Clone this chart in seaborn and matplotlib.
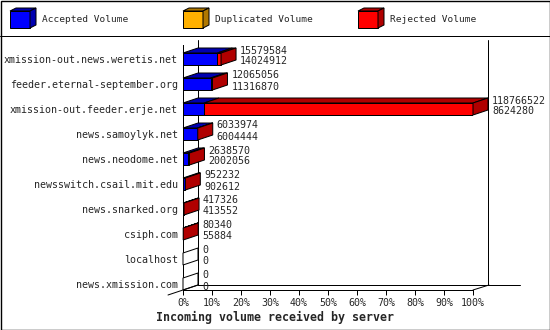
import matplotlib
matplotlib.use("Agg")
import matplotlib.pyplot as plt
from matplotlib import transforms
from matplotlib.patches import Polygon
from matplotlib.lines import Line2D
import numpy as np
import pandas as pd
import seaborn as sns

# ---------------- data ----------------
servers = [
    "xmission-out.news.weretis.net",
    "feeder.eternal-september.org",
    "xmission-out.feeder.erje.net",
    "news.samoylyk.net",
    "news.neodome.net",
    "newsswitch.csail.mit.edu",
    "news.snarked.org",
    "csiph.com",
    "localhost",
    "news.xmission.com",
]
total_volume = [15579584, 12065056, 118766522, 6033974, 2638570, 952232, 417326, 80340, 0, 0]
accepted_volume = [14024912, 11316870, 8624280, 6004444, 2002056, 902612, 413552, 55884, 0, 0]
duplicated_volume = [0, 0, 0, 0, 0, 0, 0, 0, 0, 0]
series_names = ["Accepted Volume", "Duplicated Volume", "Rejected Volume"]
series_front = ["#0000FF", "#FFB000", "#FF0000"]
series_dark = ["#0000B0", "#B07800", "#B00000"]
tick_values = [0, 10, 20, 30, 40, 50, 60, 70, 80, 90, 100]
tick_labels = [f"{v}%" for v in tick_values]
title = "Incoming volume received by server"

# ---------------- style ----------------
sns.set_style("white")
plt.rcParams["font.family"] = ["DejaVu Sans Mono"]
LW = 0.72
FS = 7.2

W, H = 550, 330
fig = plt.figure(figsize=(W / 100, H / 100), dpi=100)
fig.patch.set_facecolor("white")
# pixel coordinates measured from top-left
pix = transforms.Affine2D().scale(1 / W, -1 / H).translate(0, 1) + fig.transFigure

total = np.array(total_volume, float)
acc = np.array(accepted_volume, float)
dup = np.array(duplicated_volume, float)
scale = 100.0 / total.max()
df = pd.DataFrame({
    "server": servers,
    "accepted": acc * scale,
    "acc_dup": (acc + dup) * scale,
    "total": total * scale,
})

ax = fig.add_axes([183 / W, (H - 290) / H, 290 / W, 245 / H])
ax.patch.set_visible(False)
for col, color in [("total", series_front[2]), ("acc_dup", series_front[1]), ("accepted", series_front[0])]:
    sns.barplot(data=df, x=col, y="server", color=color, saturation=1, width=0.48,
                edgecolor="black", linewidth=LW, errorbar=None, ax=ax, zorder=3)

ax.set_xlim(0, 100)
ax.set_ylim(9.24, -0.56)
ax.set_xlabel("")
ax.set_ylabel("")

# depth of the 3D effect, converted from pixels to data units
ddx = 15 / ax.bbox.width * 100
ddy = 5 / ax.bbox.height * 9.8
half = 0.24

for i in range(len(servers)):
    bounds = [0, df["accepted"][i], df["acc_dup"][i], df["total"][i]]
    yt = i - half
    yb = i + half
    for k in range(3):
        x0, x1 = bounds[k], bounds[k + 1]
        if x1 > x0:
            ax.add_patch(Polygon([(x0, yt), (x1, yt), (x1 + ddx, yt - ddy), (x0 + ddx, yt - ddy)],
                                 closed=True, facecolor=series_dark[k], edgecolor="black",
                                 linewidth=LW, clip_on=False, zorder=4))
    xe = bounds[-1]
    side_col = series_dark[2] if total[i] > 0 else "white"
    ax.add_patch(Polygon([(xe, yt), (xe + ddx, yt - ddy), (xe + ddx, yb - ddy), (xe, yb)],
                         closed=True, facecolor=side_col, edgecolor="black",
                         linewidth=LW, clip_on=False, zorder=4))
    ax.annotate(f"{total_volume[i]}", xy=(xe, i), xytext=(19, 8.5), textcoords="offset pixels",
                ha="left", va="center", fontsize=FS, annotation_clip=False)
    ax.annotate(f"{accepted_volume[i]}", xy=(xe, i), xytext=(19, -2.5), textcoords="offset pixels",
                ha="left", va="center", fontsize=FS, annotation_clip=False)

# axes styling
for s in ["top", "right"]:
    ax.spines[s].set_visible(False)
for s in ["left", "bottom"]:
    ax.spines[s].set_color("black")
    ax.spines[s].set_linewidth(LW)
ax.set_yticks(range(len(servers)), servers)
ax.set_xticks(tick_values, tick_labels)
ax.tick_params(axis="y", length=0, pad=3.6, labelsize=FS)
ax.tick_params(axis="x", length=3.6, width=LW, pad=2.2, labelsize=FS, color="black", bottom=True)
ax.grid(False)

# back walls / floor of the 3D frame
back = ax.transAxes + transforms.ScaledTranslation(0.15, 0.05, fig.dpi_scale_trans)
for xs, ys in [([0, 0], [0, 1]), ([1, 1], [0, 1]), ([0, (520 - 198) / 290], [0, 0])]:
    ax.add_line(Line2D(xs, ys, transform=back, color="black", lw=LW, clip_on=False))
for (xa, ya), (xb, yb2) in [((168, 295), (198, 285)), ((473, 290), (489, 285))]:
    fig.add_artist(Line2D([xa, xb], [ya, yb2], transform=pix, color="black", lw=LW))

# legend with 3D cubes
for k, x0 in enumerate([10, 183, 358]):
    fig.add_artist(Polygon([(x0, 11), (x0 + 20, 11), (x0 + 20, 28), (x0, 28)], closed=True,
                           transform=pix, facecolor=series_front[k], edgecolor="black", lw=LW))
    fig.add_artist(Polygon([(x0, 11), (x0 + 20, 11), (x0 + 26, 8), (x0 + 6, 8)], closed=True,
                           transform=pix, facecolor=series_dark[k], edgecolor="black", lw=LW))
    fig.add_artist(Polygon([(x0 + 20, 11), (x0 + 26, 8), (x0 + 26, 25), (x0 + 20, 28)], closed=True,
                           transform=pix, facecolor=series_dark[k], edgecolor="black", lw=LW))
    fig.text(x0 + 32, 20, series_names[k], transform=pix, ha="left", va="center", fontsize=6.8)

fig.add_artist(Line2D([0, W], [35.5, 35.5], transform=pix, color="black", lw=LW))
fig.add_artist(Polygon([(0.5, 0.5), (W - 0.5, 0.5), (W - 0.5, H - 0.5), (0.5, H - 0.5)], closed=True,
                       transform=pix, facecolor="none", edgecolor="black", lw=LW * 1.4))

fig.text(275, 317, title, transform=pix, ha="center", va="center", fontsize=8.4, fontweight="bold")

fig.savefig("out.png", dpi=100, facecolor="white")
